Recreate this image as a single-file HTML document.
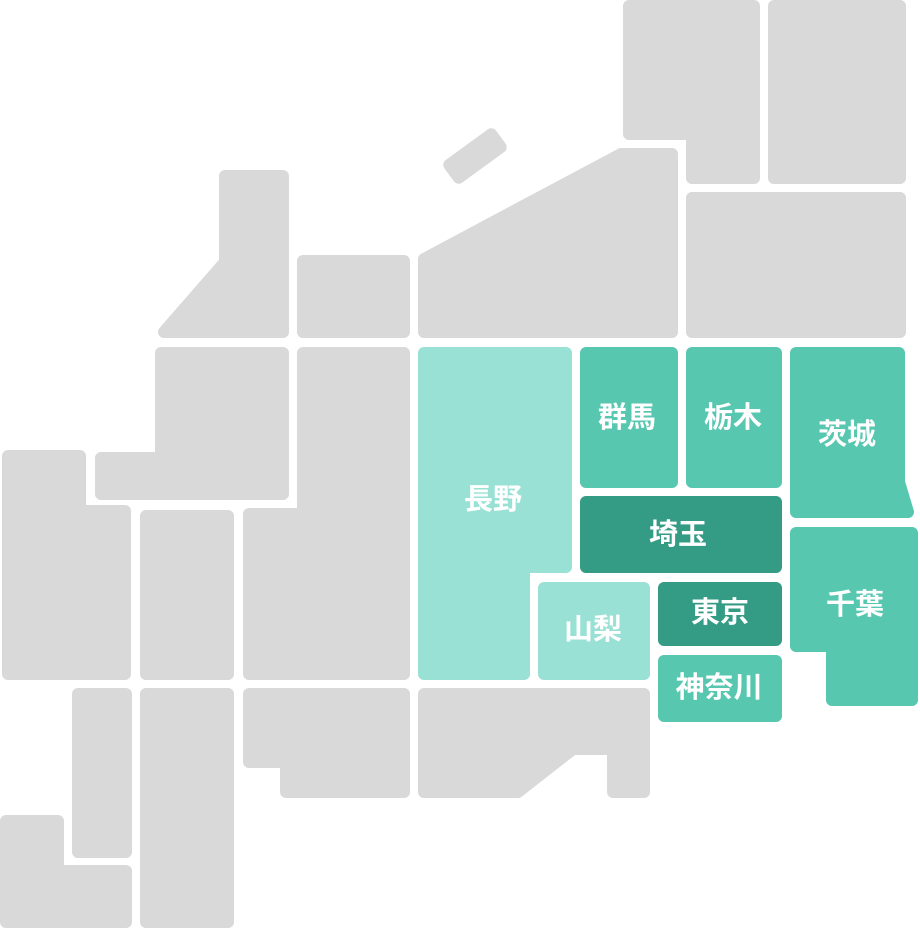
<!DOCTYPE html>
<html><head><meta charset="utf-8"><style>
html,body{margin:0;padding:0;background:#fff;}
svg{display:block;}
text{font-family:"Liberation Sans","Noto Sans CJK JP",sans-serif;font-weight:700;font-size:29px;fill:#fff;text-anchor:middle;dominant-baseline:central;}
.g{fill:#d9d9d9;stroke:#d9d9d9;stroke-width:12;stroke-linejoin:round;}
.l{fill:#9ae1d5;stroke:#9ae1d5;stroke-width:12;stroke-linejoin:round;}
.m{fill:#57c7b0;stroke:#57c7b0;stroke-width:12;stroke-linejoin:round;}
.d{fill:#349b85;stroke:#349b85;stroke-width:12;stroke-linejoin:round;}
</style></head><body>
<svg width="920" height="930" viewBox="0 0 920 930" xmlns="http://www.w3.org/2000/svg">
<polygon class="g" points="629,6 754,6 754,178 692,178 692,134 629,134"/>
<polygon class="g" points="774,6 900,6 900,178 774,178"/>
<polygon class="g" points="424,259 621,154 672,154 672,332 424,332"/>
<rect x="-26" y="-8" width="52" height="16" class="g" transform="translate(475,156) rotate(-36)"/>
<polygon class="g" points="692,198 900,198 900,332 692,332"/>
<polygon class="g" points="303,261 404,261 404,332 303,332"/>
<polygon class="g" points="225,176 283,176 283,332 164,332 225,262"/>
<polygon class="g" points="161,353 283,353 283,494 101,494 101,458 161,458"/>
<polygon class="g" points="303,353 404,353 404,674 249,674 249,514 303,514"/>
<polygon class="g" points="146,516 228,516 228,674 146,674"/>
<polygon class="g" points="8,456 80,456 80,511 125,511 125,674 8,674"/>
<polygon class="g" points="249,694 404,694 404,792 286,792 286,762 249,762"/>
<polygon class="g" points="424,694 644,694 644,792 613,792 613,749 573,749 518,792 424,792"/>
<polygon class="g" points="78,694 126,694 126,852 78,852"/>
<polygon class="g" points="146,694 228,694 228,922 146,922"/>
<polygon class="g" points="6,821 58,821 58,871 126,871 126,922 6,922"/>

<polygon class="l" points="424,353 566,353 566,567 524,567 524,674 424,674"/>
<polygon class="m" points="586,353 672,353 672,482 586,482"/>
<polygon class="m" points="692,353 776,353 776,482 692,482"/>
<polygon class="m" points="796,353 899,353 899,482 908,512 796,512"/>
<polygon class="d" points="586,502 776,502 776,567 586,567"/>
<polygon class="l" points="544,588 644,588 644,674 544,674"/>
<polygon class="d" points="664,588 776,588 776,640 664,640"/>
<polygon class="m" points="664,661 776,661 776,716 664,716"/>
<polygon class="m" points="796,533 912,533 912,700 832,700 832,646 796,646"/>

<text x="493" y="500">長野</text>
<text x="627" y="418">群馬</text>
<text x="733" y="418">栃木</text>
<text x="847" y="435">茨城</text>
<text x="678" y="535">埼玉</text>
<text x="593" y="630">山梨</text>
<text x="720" y="613">東京</text>
<text x="719" y="688">神奈川</text>
<text x="855" y="605">千葉</text>
</svg>
</body></html>
